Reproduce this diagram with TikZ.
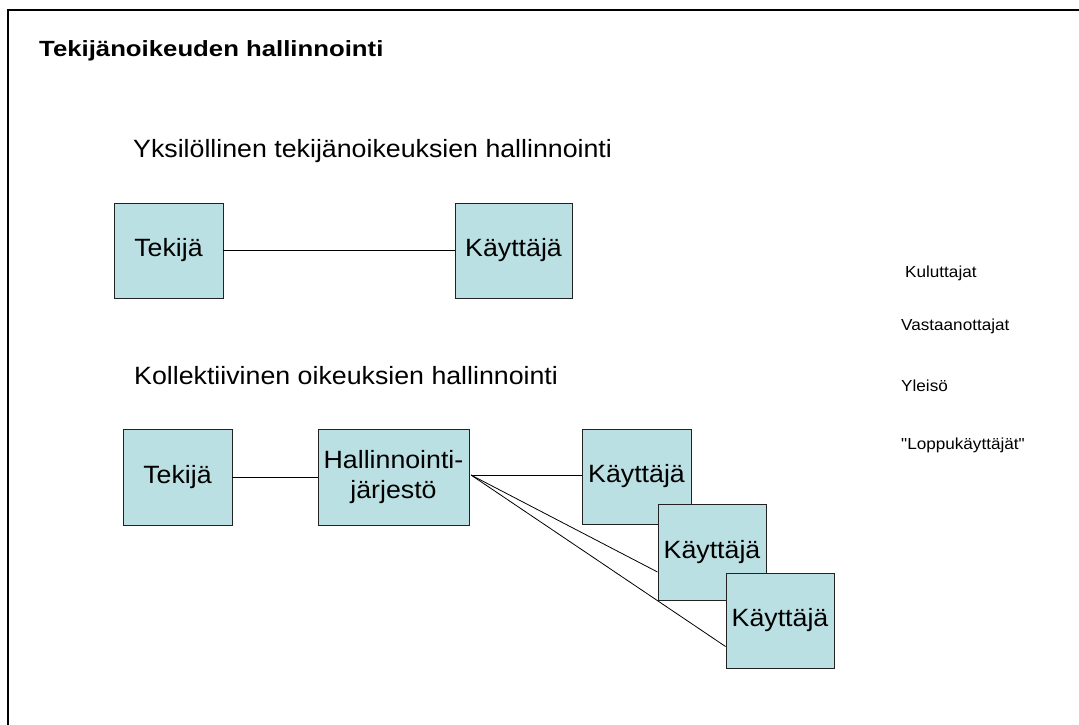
\documentclass[tikz,border=0pt]{standalone}
\usepackage{fontspec}
\setmainfont{Liberation Sans}[FakeStretch=1.07]
\newfontfamily\titlefont{Liberation Sans}[FakeStretch=1.17]
\newfontfamily\labelfont{Liberation Sans}[FakeStretch=1.07, Ligatures=TeXOff]
\definecolor{boxfill}{HTML}{BBE0E3}
\definecolor{boxline}{HTML}{222222}
\tikzset{
  box/.style={draw=boxline, line width=0.9pt, fill=boxfill, inner sep=0pt,
    align=center, font=\fontsize{25}{30}\selectfont},
  heading/.style={anchor=base west, inner sep=0pt, font=\fontsize{25}{30}\selectfont},
  sidelabel/.style={anchor=base west, inner sep=0pt, font=\labelfont\fontsize{16}{19}\selectfont},
  link/.style={draw=black, line width=0.8pt}
}
\begin{document}
\begin{tikzpicture}[x=1pt,y=-1pt]
\useasboundingbox (0,0) rectangle (1079,724);
\fill[white] (0,0) rectangle (1079,724);
% frame
\draw[line width=2pt] (8,730) -- (8,10) -- (1090,10);
% texts
\node[anchor=base west, inner sep=0pt, font=\titlefont\bfseries\fontsize{22}{26}\selectfont] (title) at (39,56) {Tekijänoikeuden hallinnointi};
\node[heading] (h1) at (133,157) {Yksilöllinen tekijänoikeuksien hallinnointi};
\node[heading] (h2) at (134,384) {Kollektiivinen oikeuksien hallinnointi};
\node[sidelabel] (l1) at (905,277) {Kuluttajat};
\node[sidelabel] (l2) at (901,330) {Vastaanottajat};
\node[sidelabel] (l3) at (901,391) {Yleisö};
\node[sidelabel] (l4) at (901,449) {"Loppukäyttäjät"};
% top row
\node[box, minimum width=109pt, minimum height=95pt] (t1) at (168.5,250.5) {Tekijä};
\node[box, minimum width=117pt, minimum height=95pt] (k0) at (513.5,250.5) {Käyttäjä};
\draw[link] (t1.east) -- (k0.west);
% bottom row
\node[box, minimum width=109pt, minimum height=96pt] (t2) at (177.5,477) {Tekijä};
\node[box, minimum width=151pt, minimum height=96pt] (hj) at (393.5,477) {Hallinnointi-\\järjestö};
\node[box, minimum width=109pt, minimum height=95pt] (k1) at (636.5,476.5) {Käyttäjä};
\draw[link] (t2.east) -- (t2.east -| hj.west);
\coordinate (hub) at (471,475);
\draw[link] (hub) -- (hub -| k1.west);
\node[box, minimum width=108pt, minimum height=96pt] (k2) at (712,552) {Käyttäjä};
\node[box, minimum width=108pt, minimum height=95pt] (k3) at (780,620.5) {Käyttäjä};
\coordinate (k2in) at ([yshift=-20pt]k2.west);
\coordinate (k3in) at ([yshift=-26pt]k3.west);
\draw[link] (hub) -- (k2in);
\draw[link] (hub) -- (k3in);
\end{tikzpicture}
\end{document}
